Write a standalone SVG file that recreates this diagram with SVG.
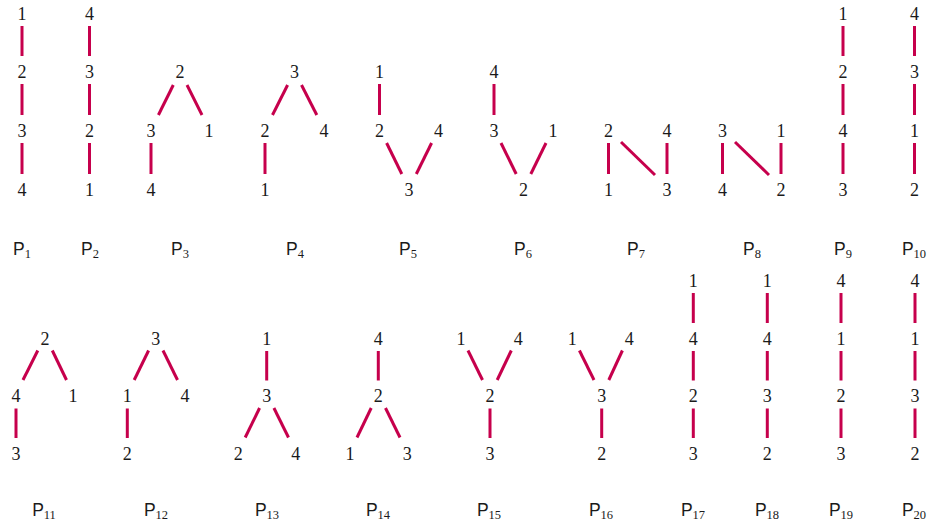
<svg xmlns="http://www.w3.org/2000/svg" width="930" height="523" viewBox="0 0 930 523">
<style>
.n{font-family:"Liberation Serif","DejaVu Serif",serif;font-size:18px;fill:#1a1a1a;text-anchor:middle}
.lbl{font-family:"Liberation Sans","DejaVu Sans",sans-serif;font-size:17.5px;fill:#1a1a1a;text-anchor:middle}
.sub{font-family:"Liberation Serif","DejaVu Serif",serif;font-size:12.5px}
.e line{stroke:#C6004C;stroke-width:3;fill:none}
</style>
<rect width="930" height="523" fill="#ffffff"/>

<!-- connectors -->
<g id="connectors" class="e">
  <!-- P1 -->
  <line x1="22" y1="26" x2="22" y2="56"/><line x1="22" y1="84" x2="22" y2="115"/><line x1="22" y1="143" x2="22" y2="174"/>
  <!-- P2 -->
  <line x1="89.5" y1="26" x2="89.5" y2="56"/><line x1="89.5" y1="84" x2="89.5" y2="115"/><line x1="89.5" y1="143" x2="89.5" y2="174"/>
  <!-- P3 -->
  <line x1="173.3" y1="85" x2="158.4" y2="115"/><line x1="187" y1="85" x2="202" y2="115"/><line x1="151" y1="143" x2="151" y2="174"/>
  <!-- P4 -->
  <line x1="287.6" y1="85" x2="272.5" y2="115"/><line x1="301.5" y1="85" x2="316.8" y2="115"/><line x1="265" y1="143" x2="265" y2="174"/>
  <!-- P5 -->
  <line x1="379.5" y1="84" x2="379.5" y2="115"/><line x1="386.6" y1="143" x2="401.8" y2="174"/><line x1="431.6" y1="143" x2="416.3" y2="174"/>
  <!-- P6 -->
  <line x1="494" y1="84" x2="494" y2="115"/><line x1="501" y1="143" x2="516.2" y2="174"/><line x1="546" y1="143" x2="530.8" y2="174"/>
  <!-- P7 -->
  <line x1="608.5" y1="143" x2="608.5" y2="174"/><line x1="667" y1="143" x2="667" y2="174"/><line x1="621" y1="142" x2="655" y2="175"/>
  <!-- P8 -->
  <line x1="722.5" y1="143" x2="722.5" y2="174"/><line x1="781" y1="143" x2="781" y2="174"/><line x1="735" y1="142" x2="769" y2="175"/>
  <!-- P9 -->
  <line x1="843" y1="26" x2="843" y2="56"/><line x1="843" y1="84" x2="843" y2="115"/><line x1="843" y1="143" x2="843" y2="174"/>
  <!-- P10 -->
  <line x1="914.5" y1="26" x2="914.5" y2="56"/><line x1="914.5" y1="84" x2="914.5" y2="115"/><line x1="914.5" y1="143" x2="914.5" y2="174"/>

  <!-- P11 -->
  <line x1="37.8" y1="350.5" x2="23" y2="380"/><line x1="52.3" y1="350.5" x2="66.5" y2="380"/><line x1="16" y1="408.5" x2="16" y2="438"/>
  <!-- P12 -->
  <line x1="148.6" y1="350.5" x2="134.2" y2="380"/><line x1="163" y1="350.5" x2="177.5" y2="380"/><line x1="127.3" y1="408.5" x2="127.3" y2="438"/>
  <!-- P13 -->
  <line x1="266.7" y1="351" x2="266.7" y2="380.5"/><line x1="259.6" y1="408" x2="245.2" y2="437.5"/><line x1="273.9" y1="408" x2="288.5" y2="437.5"/>
  <!-- P14 -->
  <line x1="378.3" y1="351" x2="378.3" y2="380.5"/><line x1="371.2" y1="408" x2="357" y2="437.5"/><line x1="385.5" y1="408" x2="400" y2="437.5"/>
  <!-- P15 -->
  <line x1="468" y1="350.5" x2="482.5" y2="380"/><line x1="511.3" y1="350.5" x2="497.2" y2="380"/><line x1="490" y1="408.5" x2="490" y2="438"/>
  <!-- P16 -->
  <line x1="579.4" y1="350.5" x2="594" y2="380"/><line x1="622.4" y1="350.5" x2="608.8" y2="380"/><line x1="601.7" y1="408.5" x2="601.7" y2="438"/>
  <!-- P17 -->
  <line x1="693.3" y1="293" x2="693.3" y2="323"/><line x1="693.3" y1="351" x2="693.3" y2="380.5"/><line x1="693.3" y1="408.5" x2="693.3" y2="438"/>
  <!-- P18 -->
  <line x1="767.3" y1="293" x2="767.3" y2="323"/><line x1="767.3" y1="351" x2="767.3" y2="380.5"/><line x1="767.3" y1="408.5" x2="767.3" y2="438"/>
  <!-- P19 -->
  <line x1="841" y1="293" x2="841" y2="323"/><line x1="841" y1="351" x2="841" y2="380.5"/><line x1="841" y1="408.5" x2="841" y2="438"/>
  <!-- P20 -->
  <line x1="915" y1="293" x2="915" y2="323"/><line x1="915" y1="351" x2="915" y2="380.5"/><line x1="915" y1="408.5" x2="915" y2="438"/>
</g>

<!-- top row -->
<g id="P1"><text class="n" x="22" y="19.5">1</text><text class="n" x="22" y="77.5">2</text><text class="n" x="22" y="136.5">3</text><text class="n" x="22" y="195.5">4</text>
<text class="lbl" x="22" y="255">P<tspan class="sub" dy="3">1</tspan></text></g>
<g id="P2"><text class="n" x="89.5" y="19.5">4</text><text class="n" x="89.5" y="77.5">3</text><text class="n" x="89.5" y="136.5">2</text><text class="n" x="89.5" y="195.5">1</text>
<text class="lbl" x="90" y="255">P<tspan class="sub" dy="3">2</tspan></text></g>
<g id="P3"><text class="n" x="180" y="77.5">2</text><text class="n" x="151" y="136.5">3</text><text class="n" x="209" y="136.5">1</text><text class="n" x="151" y="195.5">4</text>
<text class="lbl" x="180" y="255">P<tspan class="sub" dy="3">3</tspan></text></g>
<g id="P4"><text class="n" x="294.5" y="77.5">3</text><text class="n" x="265" y="136.5">2</text><text class="n" x="324" y="136.5">4</text><text class="n" x="265" y="195.5">1</text>
<text class="lbl" x="295" y="255">P<tspan class="sub" dy="3">4</tspan></text></g>
<g id="P5"><text class="n" x="379.5" y="77.5">1</text><text class="n" x="379.5" y="136.5">2</text><text class="n" x="438.5" y="136.5">4</text><text class="n" x="409" y="195.5">3</text>
<text class="lbl" x="408" y="255">P<tspan class="sub" dy="3">5</tspan></text></g>
<g id="P6"><text class="n" x="494" y="77.5">4</text><text class="n" x="494" y="136.5">3</text><text class="n" x="553" y="136.5">1</text><text class="n" x="523.5" y="195.5">2</text>
<text class="lbl" x="523" y="255">P<tspan class="sub" dy="3">6</tspan></text></g>
<g id="P7"><text class="n" x="608.5" y="136.5">2</text><text class="n" x="667" y="136.5">4</text><text class="n" x="608.5" y="195.5">1</text><text class="n" x="667" y="195.5">3</text>
<text class="lbl" x="636" y="255">P<tspan class="sub" dy="3">7</tspan></text></g>
<g id="P8"><text class="n" x="722.5" y="136.5">3</text><text class="n" x="781" y="136.5">1</text><text class="n" x="722.5" y="195.5">4</text><text class="n" x="781" y="195.5">2</text>
<text class="lbl" x="752" y="255">P<tspan class="sub" dy="3">8</tspan></text></g>
<g id="P9"><text class="n" x="843" y="19.5">1</text><text class="n" x="843" y="77.5">2</text><text class="n" x="843" y="136.5">4</text><text class="n" x="843" y="195.5">3</text>
<text class="lbl" x="843" y="255">P<tspan class="sub" dy="3">9</tspan></text></g>
<g id="P10"><text class="n" x="914.5" y="19.5">4</text><text class="n" x="914.5" y="77.5">3</text><text class="n" x="914.5" y="136.5">1</text><text class="n" x="914.5" y="195.5">2</text>
<text class="lbl" x="914" y="255">P<tspan class="sub" dy="3">10</tspan></text></g>

<!-- bottom row -->
<g id="P11"><text class="n" x="45" y="344.5">2</text><text class="n" x="16" y="402">4</text><text class="n" x="73" y="402">1</text><text class="n" x="16" y="459.5">3</text>
<text class="lbl" x="44" y="516">P<tspan class="sub" dy="3">11</tspan></text></g>
<g id="P12"><text class="n" x="155.7" y="344.5">3</text><text class="n" x="127.3" y="402">1</text><text class="n" x="185" y="402">4</text><text class="n" x="127.3" y="459.5">2</text>
<text class="lbl" x="156" y="516">P<tspan class="sub" dy="3">12</tspan></text></g>
<g id="P13"><text class="n" x="266.7" y="344.5">1</text><text class="n" x="266.7" y="402">3</text><text class="n" x="238.3" y="459.5">2</text><text class="n" x="295.7" y="459.5">4</text>
<text class="lbl" x="267" y="516">P<tspan class="sub" dy="3">13</tspan></text></g>
<g id="P14"><text class="n" x="378.3" y="344.5">4</text><text class="n" x="378.3" y="402">2</text><text class="n" x="350" y="459.5">1</text><text class="n" x="407.3" y="459.5">3</text>
<text class="lbl" x="378" y="516">P<tspan class="sub" dy="3">14</tspan></text></g>
<g id="P15"><text class="n" x="461" y="344.5">1</text><text class="n" x="518.3" y="344.5">4</text><text class="n" x="490" y="402">2</text><text class="n" x="490" y="459.5">3</text>
<text class="lbl" x="489" y="516">P<tspan class="sub" dy="3">15</tspan></text></g>
<g id="P16"><text class="n" x="572.3" y="344.5">1</text><text class="n" x="629.3" y="344.5">4</text><text class="n" x="601.7" y="402">3</text><text class="n" x="601.7" y="459.5">2</text>
<text class="lbl" x="601" y="516">P<tspan class="sub" dy="3">16</tspan></text></g>
<g id="P17"><text class="n" x="693.3" y="286.5">1</text><text class="n" x="693.3" y="344.5">4</text><text class="n" x="693.3" y="402">2</text><text class="n" x="693.3" y="459.5">3</text>
<text class="lbl" x="693" y="516">P<tspan class="sub" dy="3">17</tspan></text></g>
<g id="P18"><text class="n" x="767.3" y="286.5">1</text><text class="n" x="767.3" y="344.5">4</text><text class="n" x="767.3" y="402">3</text><text class="n" x="767.3" y="459.5">2</text>
<text class="lbl" x="767" y="516">P<tspan class="sub" dy="3">18</tspan></text></g>
<g id="P19"><text class="n" x="841" y="286.5">4</text><text class="n" x="841" y="344.5">1</text><text class="n" x="841" y="402">2</text><text class="n" x="841" y="459.5">3</text>
<text class="lbl" x="841" y="516">P<tspan class="sub" dy="3">19</tspan></text></g>
<g id="P20"><text class="n" x="915" y="286.5">4</text><text class="n" x="915" y="344.5">1</text><text class="n" x="915" y="402">3</text><text class="n" x="915" y="459.5">2</text>
<text class="lbl" x="914" y="516">P<tspan class="sub" dy="3">20</tspan></text></g>
</svg>
